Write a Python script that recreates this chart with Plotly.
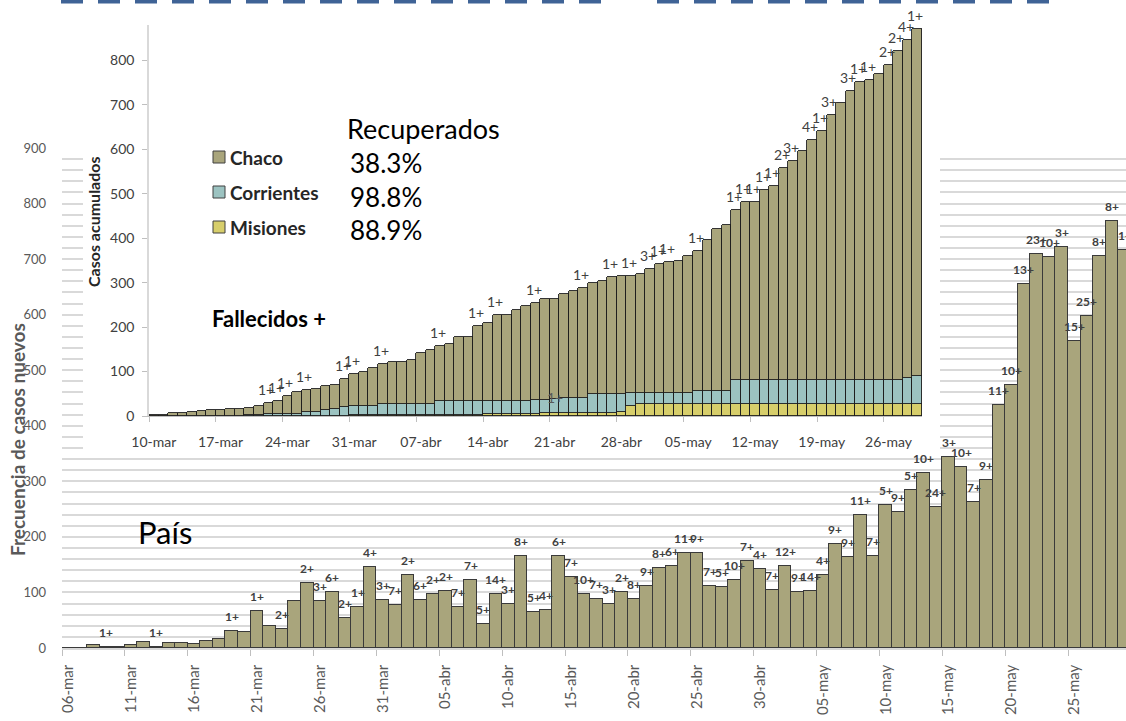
import pandas as pd
import plotly.graph_objects as go

W, H = 1126, 721

# ---------------- Main chart (País): daily new cases ----------------
pais_start = "2020-03-06"
pais_cases = [0, 0, 6, 1, 2, 6, 11, 2, 9, 9, 8, 13, 17, 31, 29, 66, 40, 34, 85, 117, 85, 101, 54, 73, 145, 87,
              78, 132, 87, 98, 103, 73, 122, 44, 98, 80, 166, 65, 69, 166, 128, 98, 89, 80, 101, 89, 112, 144,
              147, 171, 171, 112, 110, 123, 157, 142,
              104, 148, 101, 103, 131, 187, 163, 240, 165, 257, 244, 284, 315, 254, 344, 325, 262, 302, 437,
              473, 655, 710, 703, 722, 552, 598, 706, 768, 717]
pais_dates = pd.date_range(pais_start, periods=len(pais_cases), freq="D")

pais_death_dates = ["2020-03-09", "2020-03-13", "2020-03-19", "2020-03-21", "2020-03-23", "2020-03-25",
                    "2020-03-26", "2020-03-27", "2020-03-28", "2020-03-29", "2020-03-30", "2020-03-31",
                    "2020-04-01", "2020-04-02", "2020-04-03", "2020-04-04", "2020-04-05", "2020-04-06",
                    "2020-04-07", "2020-04-08", "2020-04-09", "2020-04-10", "2020-04-11", "2020-04-12",
                    "2020-04-13", "2020-04-14", "2020-04-15", "2020-04-16", "2020-04-17", "2020-04-18",
                    "2020-04-19", "2020-04-20", "2020-04-21", "2020-04-22", "2020-04-23", "2020-04-24",
                    "2020-04-25", "2020-04-26", "2020-04-27", "2020-04-28", "2020-04-29", "2020-04-30",
                    "2020-05-01", "2020-05-02", "2020-05-03", "2020-05-04", "2020-05-05", "2020-05-06",
                    "2020-05-07", "2020-05-08", "2020-05-09", "2020-05-10", "2020-05-11", "2020-05-12",
                    "2020-05-13", "2020-05-14", "2020-05-15", "2020-05-16", "2020-05-17", "2020-05-18",
                    "2020-05-19", "2020-05-20", "2020-05-21", "2020-05-22", "2020-05-23", "2020-05-24",
                    "2020-05-25", "2020-05-26", "2020-05-27", "2020-05-28", "2020-05-29"]
pais_death_labels = ["1+", "1+", "1+", "1+", "2+", "2+", "3+", "6+", "2+", "1+", "4+", "3+",
                     "7+", "2+", "6+", "2+", "2+", "7+", "7+", "5+", "14+", "3+", "8+", "5+",
                     "4+", "6+", "7+", "10+", "7+", "3+", "2+", "8+", "9+", "8+", "6+", "11+",
                     "9+", "7+", "5+", "10+", "7+", "4+", "7+", "12+", "9+", "14+", "4+", "9+",
                     "9+", "11+", "7+", "5+", "9+", "5+", "10+", "24+", "3+", "10+", "7+", "9+",
                     "11+", "10+", "13+", "23+", "10+", "3+", "15+", "25+", "8+", "8+", "1+"]

pais_tick_dates = ["2020-03-06", "2020-03-11", "2020-03-16", "2020-03-21", "2020-03-26", "2020-03-31",
                   "2020-04-05", "2020-04-10", "2020-04-15", "2020-04-20", "2020-04-25", "2020-04-30",
                   "2020-05-05", "2020-05-10", "2020-05-15", "2020-05-20", "2020-05-25"]
pais_tick_labels = ["06-mar", "11-mar", "16-mar", "21-mar", "26-mar", "31-mar", "05-abr", "10-abr",
                    "15-abr", "20-abr", "25-abr", "30-abr", "05-may", "10-may", "15-may", "20-may", "25-may"]

# ---------------- Inset: cumulative cases by province ----------------
inset_start = "2020-03-10"
chaco = [2, 2, 7, 7, 9, 12, 14, 14, 16, 16, 17, 19, 26, 29, 39, 50, 50, 50, 54, 54, 63, 73, 75, 84, 90,
         96, 94, 98, 113, 121, 124, 128, 144, 144, 168, 176, 194, 194, 205, 214, 219, 226, 226, 235, 241,
         247, 249, 253, 263, 265, 264, 269, 280, 290, 296, 298, 310, 315, 340, 366, 374, 383, 401, 401,
         427, 437, 477, 494, 515, 540, 561, 597, 623, 651, 670, 676, 688, 709, 740, 762, 783]
corrientes = [0, 0, 0, 0, 0, 0, 0, 0, 0, 0, 2, 3, 3, 3, 4, 4, 7, 9, 13, 15, 19, 19, 20, 20, 23, 23, 25,
              25, 25, 25, 31, 31, 31, 31, 31, 30, 30, 30, 30, 30, 32, 31, 32, 34, 34, 35, 44, 44, 44, 40,
              28, 25, 25, 25, 25, 25, 25, 30, 30, 30, 30, 55, 55, 55, 55, 55, 55, 55, 55, 55, 55, 55, 55,
              55, 55, 55, 55, 55, 55, 57, 61]
misiones = [0, 0, 0, 0, 0, 0, 0, 0, 0, 0, 0, 0, 1, 1, 1, 1, 1, 1, 1, 1, 1, 3, 3, 3, 3, 3, 3, 3, 3, 3,
            3, 3, 3, 3, 3, 4, 4, 4, 4, 4, 4, 6, 6, 6, 6, 6, 6, 6, 6, 10, 23, 26, 26, 26, 26, 26, 26, 26,
            26, 26, 26, 26, 26, 26, 26, 26, 26, 26, 26, 26, 26, 26, 26, 26, 26, 26, 26, 26, 26, 28, 28]
inset_dates = pd.date_range(inset_start, periods=len(chaco), freq="D")

inset_death_dates = ["2020-03-22", "2020-03-23", "2020-03-24", "2020-03-26", "2020-03-30", "2020-03-31",
                     "2020-04-03", "2020-04-09", "2020-04-13", "2020-04-15", "2020-04-19", "2020-04-24",
                     "2020-04-27", "2020-04-29", "2020-05-01", "2020-05-02", "2020-05-03", "2020-05-06",
                     "2020-05-10", "2020-05-11", "2020-05-12", "2020-05-13", "2020-05-14", "2020-05-15",
                     "2020-05-16", "2020-05-18", "2020-05-19", "2020-05-20", "2020-05-22", "2020-05-23",
                     "2020-05-24", "2020-05-26", "2020-05-27", "2020-05-28", "2020-05-29"]
inset_death_labels = ["1+", "1+", "1+", "1+", "1+", "1+", "1+", "1+", "1+", "1+", "1+", "1+",
                      "1+", "1+", "3+", "1+", "1+", "1+", "1+", "1+", "1+", "1+", "1+", "2+",
                      "3+", "4+", "1+", "3+", "3+", "1+", "1+", "2+", "2+", "4+", "1+"]
corrientes_death_dates = ["2020-04-21"]
corrientes_death_labels = ["1+"]

inset_tick_dates = ["2020-03-10", "2020-03-17", "2020-03-24", "2020-03-31", "2020-04-07", "2020-04-14",
                    "2020-04-21", "2020-04-28", "2020-05-05", "2020-05-12", "2020-05-19", "2020-05-26"]
inset_tick_labels = ["10-mar", "17-mar", "24-mar", "31-mar", "07-abr", "14-abr", "21-abr", "28-abr",
                     "05-may", "12-may", "19-may", "26-may"]

provinces = ["Chaco", "Corrientes", "Misiones"]
recovered = ["38.3%", "98.8%", "88.9%"]

# ---------------- styling ----------------
FONT = "Lato, 'Open Sans', sans-serif"
OLIVE = "#A9A57C"
TEAL = "#9CC3C1"
YELLOW = "#D7CE6B"
GRID = "#D9D9D9"
DAY = pd.Timedelta(days=1)
HALF = pd.Timedelta(hours=12)


def px(x):
    return x / W


def py(y):
    return 1 - y / H


def center(d):
    return (pd.Timestamp(d) + HALF).strftime("%Y-%m-%d %H:%M")


def edge(d):
    return pd.Timestamp(d).strftime("%Y-%m-%d")


fig = go.Figure()

# main bars
fig.add_trace(go.Bar(
    x=[d.strftime("%Y-%m-%d") for d in pais_dates], y=pais_cases,
    xperiod=86400000, xperiodalignment="middle",
    marker=dict(color=OLIVE, line=dict(color="#3A3A3A", width=1.2)),
    xaxis="x", yaxis="y", hoverinfo="skip", showlegend=False))

# white cover behind inset
fig.add_trace(go.Scatter(
    x=[0, 1, 1, 0, 0], y=[0, 0, 1, 1, 0], fill="toself", fillcolor="white",
    mode="lines", line=dict(width=0, color="white"),
    xaxis="x2", yaxis="y2", hoverinfo="skip", showlegend=False))

# inset stacked bars
inset_x = [d.strftime("%Y-%m-%d") for d in inset_dates]
for name, vals, col in [("Misiones", misiones, YELLOW), ("Corrientes", corrientes, TEAL), ("Chaco", chaco, OLIVE)]:
    fig.add_trace(go.Bar(
        x=inset_x, y=vals, name=name,
        xperiod=86400000, xperiodalignment="middle",
        marker=dict(color=col, line=dict(color="#1E1E1E", width=0.9)),
        xaxis="x3", yaxis="y3", hoverinfo="skip", showlegend=False))

pais_end = pd.Timestamp(pais_start) + pd.Timedelta(days=(W - 62) / 12.575)

fig.update_layout(
    width=W, height=H, margin=dict(l=0, r=0, t=0, b=0),
    paper_bgcolor="white", plot_bgcolor="white",
    barmode="stack", bargap=0, showlegend=False,
    font=dict(family=FONT, color="#404040"),
    xaxis=dict(
        domain=[px(62), 1], anchor="y", type="date",
        range=[edge(pais_start), pais_end.strftime("%Y-%m-%d %H:%M")],
        tickmode="array", tickvals=[center(d) for d in pais_tick_dates], ticktext=pais_tick_labels,
        tickangle=-90, ticks="", ticklabelstandoff=9,
        tickfont=dict(size=15, color="#595959", family=FONT),
        showgrid=False, zeroline=False, showline=True, linecolor=GRID, linewidth=1.5,
        minor=dict(tickmode="array", tickvals=[edge(d) for d in pais_tick_dates],
                   ticks="outside", ticklen=6, tickcolor="#BFBFBF", tickwidth=1, showgrid=False),
        automargin=False, fixedrange=True),
    yaxis=dict(
        domain=[py(648), py(148)], anchor="x", range=[0, 900],
        tick0=0, dtick=100, ticks="", ticklabelstandoff=15,
        tickfont=dict(size=13, color="#595959", family=FONT),
        showgrid=True, gridcolor=GRID, gridwidth=1.5, zeroline=False, showline=False,
        minor=dict(dtick=20, showgrid=True, gridcolor=GRID, gridwidth=1.5),
        automargin=False, fixedrange=True),
    xaxis2=dict(domain=[px(83), px(940)], anchor="y2", range=[0, 1], visible=False, fixedrange=True),
    yaxis2=dict(domain=[py(455), 1], anchor="x2", range=[0, 1], visible=False, fixedrange=True),
    xaxis3=dict(
        domain=[px(149), px(922)], anchor="y3", type="date",
        range=[edge(inset_start), (inset_dates[-1] + DAY).strftime("%Y-%m-%d")],
        tickmode="array", tickvals=[center(d) for d in inset_tick_dates], ticktext=inset_tick_labels,
        ticks="", ticklabelstandoff=13, tickfont=dict(size=14, color="#404040", family=FONT),
        showgrid=False, zeroline=False, showline=True, linecolor="#BFBFBF", linewidth=1,
        minor=dict(tickmode="array", tickvals=[edge(d) for d in inset_tick_dates],
                   ticks="outside", ticklen=5, tickcolor="#BFBFBF", tickwidth=1, showgrid=False),
        automargin=False, fixedrange=True),
    yaxis3=dict(
        domain=[py(416), py(25)], anchor="x3", range=[0, 880],
        tick0=0, dtick=100, ticks="outside", ticklen=5, tickcolor="#BFBFBF", ticklabelstandoff=5,
        tickfont=dict(size=14, color="#404040", family=FONT),
        showgrid=False, zeroline=False, showline=True, linecolor=GRID, linewidth=1.5,
        automargin=False, fixedrange=True),
)

ann = []
# main death labels
pais_lookup = dict(zip([d.strftime("%Y-%m-%d") for d in pais_dates], pais_cases))
for d, t in zip(pais_death_dates, pais_death_labels):
    ann.append(dict(x=center(d), y=pais_lookup[d], xref="x", yref="y", text=t, showarrow=False,
                    xanchor="center", yanchor="bottom", yshift=5,
                    font=dict(size=12, color="#404040", family=FONT, weight="bold")))

# inset death labels
totals = [a + b + c for a, b, c in zip(chaco, corrientes, misiones)]
inset_lookup = dict(zip(inset_x, totals))
lower_lookup = dict(zip(inset_x, [b + c for b, c in zip(corrientes, misiones)]))
for d, t in zip(inset_death_dates, inset_death_labels):
    ann.append(dict(x=center(d), y=inset_lookup[d], xref="x3", yref="y3", text=t, showarrow=False,
                    xanchor="center", yanchor="bottom", yshift=3, xshift=-2,
                    font=dict(size=14, color="#404040", family=FONT)))
for d, t in zip(corrientes_death_dates, corrientes_death_labels):
    ann.append(dict(x=center(d), y=lower_lookup[d], xref="x3", yref="y3", text=t, showarrow=False,
                    xanchor="center", yanchor="middle", yshift=2,
                    font=dict(size=14, color="#595959", family=FONT)))

# texts
ann.append(dict(x=px(18), y=py(440), xref="paper", yref="paper", text="<b>Frecuencia de casos nuevos</b>",
                textangle=-90, showarrow=False, xanchor="center", yanchor="middle",
                font=dict(size=19, color="#595959", family=FONT)))
ann.append(dict(x=px(94), y=py(222), xref="paper", yref="paper", text="<b>Casos acumulados</b>",
                textangle=-90, showarrow=False, xanchor="center", yanchor="middle",
                font=dict(size=16, color="#262626", family=FONT)))
ann.append(dict(x=px(136), y=py(532), xref="paper", yref="paper", text="País", xanchor="left",
                yanchor="middle", showarrow=False, font=dict(size=31, color="#000000", family=FONT)))
ann.append(dict(x=px(345), y=py(128), xref="paper", yref="paper", text="Recuperados", xanchor="left",
                yanchor="middle", showarrow=False, font=dict(size=27, color="#000000", family=FONT)))
ann.append(dict(x=px(210), y=py(318), xref="paper", yref="paper", text="<b>Fallecidos +</b>", xanchor="left",
                yanchor="middle", showarrow=False, font=dict(size=22, color="#000000", family=FONT)))

shapes = []
legend_cols = [OLIVE, TEAL, YELLOW]
row_y = [157, 192, 227]
pct_y = [163, 197, 230]
for name, col, yy, pct, pyy in zip(provinces, legend_cols, row_y, recovered, pct_y):
    shapes.append(dict(type="rect", xref="paper", yref="paper", x0=px(213), x1=px(225),
                       y0=py(yy + 6), y1=py(yy - 6), fillcolor=col, line=dict(color="#404040", width=1),
                       layer="above"))
    ann.append(dict(x=px(228), y=py(yy), xref="paper", yref="paper", text="<b>" + name + "</b>",
                    xanchor="left", yanchor="middle", showarrow=False,
                    font=dict(size=19, color="#262626", family=FONT)))
    ann.append(dict(x=px(348), y=py(pyy), xref="paper", yref="paper", text=pct, xanchor="left",
                    yanchor="middle", showarrow=False, font=dict(size=26, color="#000000", family=FONT)))

# dashed border at the top
for x0, x1 in [(61, 603), (657, 1052)]:
    shapes.append(dict(type="line", xref="paper", yref="paper", x0=px(x0), x1=px(x1),
                       y0=py(1.5), y1=py(1.5), line=dict(color="#3F6396", width=4, dash="22px,15px"),
                       layer="above"))

fig.update_layout(annotations=ann, shapes=shapes)
fig.write_html("out.html", config={"displayModeBar": False})

# remove the browser's default page margin so the figure sits at the window origin
with open("out.html", encoding="utf-8") as f:
    html = f.read()
html = html.replace("<head>", "<head><style>html,body{margin:0;padding:0;overflow:hidden;}</style>", 1)
with open("out.html", "w", encoding="utf-8") as f:
    f.write(html)
